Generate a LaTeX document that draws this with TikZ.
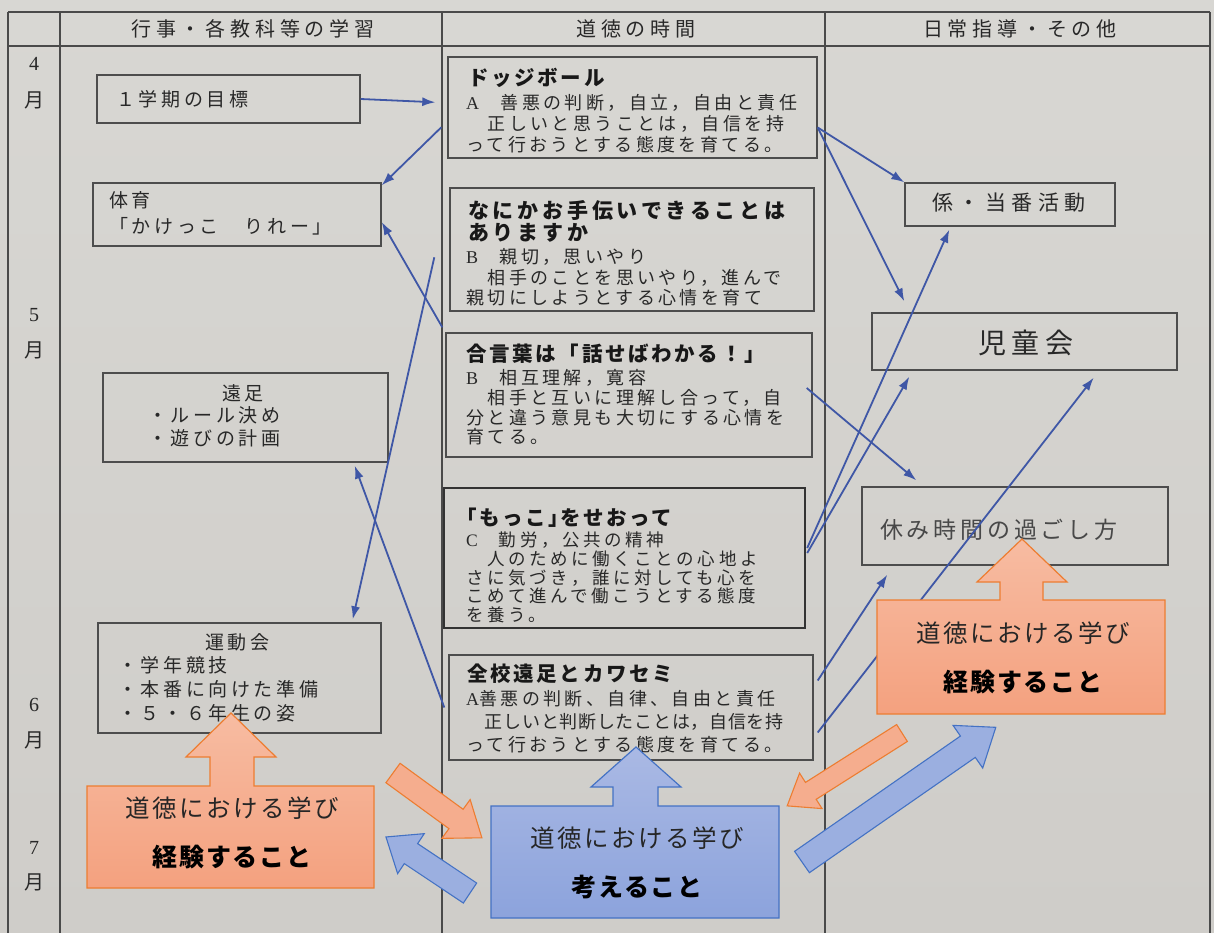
\documentclass[tikz,border=0pt]{standalone}
\usepackage{fontspec}
\setmainfont{Noto Sans CJK JP}
\newfontfamily\numfont{Liberation Serif}
\usetikzlibrary{arrows.meta,calc}
\definecolor{paper}{HTML}{D8D7D3}
\definecolor{paperb}{HTML}{CFCDC9}
\definecolor{linec}{HTML}{4A4A4A}
\definecolor{boxc}{HTML}{4D4D4D}
\definecolor{txtc}{HTML}{282828}
\definecolor{titc}{HTML}{181818}
\definecolor{connc}{HTML}{3F57A6}
\definecolor{orT}{HTML}{F7BCA2}
\definecolor{orB}{HTML}{F4A17F}
\definecolor{orM}{HTML}{F5AD8E}
\definecolor{orD}{HTML}{ED7D31}
\definecolor{blT}{HTML}{AAB9E4}
\definecolor{blB}{HTML}{8CA3DC}
\definecolor{blM}{HTML}{9BAFE0}
\definecolor{blD}{HTML}{4472C4}
\newcommand{\blkarrow}[7]{%
  \begin{scope}[shift={#2}, rotate=#3]
    \path[#1] (0,#5) -- ({#4-#7},#5) -- ({#4-#7},#6) -- (#4,0) -- ({#4-#7},-#6) -- ({#4-#7},-#5) -- (0,-#5) -- cycle;
  \end{scope}}
\tikzset{
  tline/.style={draw=linec, line width=1.2pt},
  bx/.style={draw=boxc, line width=1.4pt, inner sep=0pt},
  hdr/.style={font=\fontsize{20}{22}\selectfont\addfontfeature{LetterSpace=24}, text=txtc, inner sep=0pt},
  mon/.style={font=\fontsize{20}{20}\selectfont, text=txtc, inner sep=0pt},
  ltxt/.style={font=\fontsize{19}{#1}\selectfont\addfontfeature{LetterSpace=19}, text=txtc, inner sep=0pt, align=left, anchor=north west},
  ltxt/.default=24,
  ttl/.style={font=\fontsize{20.5}{#1}\selectfont\bfseries\addfontfeature{LetterSpace=13}, text=titc, inner sep=0pt, align=left, anchor=north west},
  ttl/.default=22,
  body/.style={font=\fontsize{18}{#1}\selectfont\addfontfeature{LetterSpace=19}, text=txtc, inner sep=0pt, align=left, anchor=north west},
  body/.default=21,
  conn/.style={draw=connc, line width=1.8pt, -{Latex[length=13pt,width=9pt]}},
  orcall/.style={draw=orD, line width=1.2pt, top color=orT, bottom color=orB},
  blcall/.style={draw=blD, line width=1.2pt, top color=blT, bottom color=blB},
  orarr/.style={draw=orD, line width=1.1pt, fill=orM},
  blarr/.style={draw=blD, line width=1.1pt, fill=blM},
  ctop/.style={font=\fontsize{24.5}{24}\selectfont\addfontfeature{LetterSpace=10}, text=black!85, inner sep=0pt},
  cbot/.style={font=\fontsize{25}{24}\selectfont\bfseries\addfontfeature{LetterSpace=7}, text=black, inner sep=0pt}
}
\begin{document}
\begin{tikzpicture}[x=1pt,y=-1pt]
\useasboundingbox (0,0) rectangle (1214,933);
\shade[top color=paper, bottom color=paperb] (0,0) rectangle (1214,933);

% table frame
\draw[tline] (8,12) -- (1210,12);
\draw[tline] (8,46) -- (1210,46);
\draw[tline] (8,12) -- (8,933);
\draw[tline] (60,12) -- (60,933);
\draw[tline] (442,12) -- (442,933);
\draw[tline] (825,12) -- (825,933);
\draw[tline] (1210,12) -- (1210,933);

% headers
\node[hdr] (h1) at (253,29) {行事・各教科等の学習};
\node[hdr] (h2) at (636,29) {道徳の時間};
\node[hdr] (h3) at (1020,29) {日常指導・その他};

% months
\node[mon] (m4) at (34,64) {\numfont 4};
\node[mon] (m4y) at (34,100) {月};
\node[mon] (m5) at (34,315) {\numfont 5};
\node[mon] (m5y) at (34,350) {月};
\node[mon] (m6) at (34,705) {\numfont 6};
\node[mon] (m6y) at (34,740) {月};
\node[mon] (m7) at (34,848) {\numfont 7};
\node[mon] (m7y) at (34,882) {月};

% left column
\node[bx, minimum width=263pt, minimum height=48pt] (goal) at (228.5,99) {};
\node[ltxt] (goalt) at (116,90) {１学期の目標};
\node[bx, minimum width=288pt, minimum height=63pt] (taiiku) at (237,214.5) {};
\node[ltxt=26] (taiikut) at (109,191) {体育\\「かけっこ　りれー」};
\node[bx, minimum width=285pt, minimum height=89pt] (ensoku) at (245.5,417.5) {};
\node[ltxt=22.5] (ensokut) at (148,384) {\hspace*{74pt}遠足\\・ルール決め\\・遊びの計画};
\node[bx, minimum width=283pt, minimum height=110pt] (undoukai) at (239.5,678) {};
\node[ltxt=23.7] (undoukait) at (118,633) {\hspace*{87pt}運動会\\・学年競技\\・本番に向けた準備\\・５・６年生の姿};

% middle column
\node[bx, minimum width=369pt, minimum height=101pt] (dodge) at (632.5,107.5) {};
\node[ttl] (dodget) at (468,68) {ドッジボール};
\node[body] (dodgeb) at (466,94.5) {{\numfont A}　善悪の判断，自立，自由と責任\\　正しいと思うことは，自信を持\\って行おうとする態度を育てる。};

\node[bx, minimum width=364pt, minimum height=123pt] (nanika) at (632,249.5) {};
\node[ttl=22, font=\fontsize{21}{22}\selectfont\bfseries\addfontfeature{LetterSpace=18}] (nanikat) at (468,200.5) {なにかお手伝いできることは\\ありますか};
\node[body=20.5] (nanikab) at (466,248.5) {{\numfont B}　親切，思いやり\\　相手のことを思いやり，進んで\\親切にしようとする心情を育て};

\node[bx, minimum width=366pt, minimum height=124pt] (aikotoba) at (629,395) {};
\node[ttl] (aikotobat) at (466,344) {合言葉は「話せばわかる！」};
\node[body=19.7] (aikotobab) at (466,369.5) {{\numfont B}　相互理解，寛容\\　相手と互いに理解し合って，自\\分と違う意見も大切にする心情を\\育てる。};

\node[bx, line width=2.4pt, draw=black!80, minimum width=361pt, minimum height=140pt] (mokko) at (624.5,558) {};
\node[ttl] (mokkot) at (456,507.5) {「もっこ」\hspace{-9pt}をせおって};
\node[body=18.8, font=\fontsize{17.5}{18.8}\selectfont\addfontfeature{LetterSpace=20.5}] (mokkob) at (466,531.5) {{\numfont C}　勤労，公共の精神\\　人のために働くことの心地よ\\さに気づき，誰に対しても心を\\こめて進んで働こうとする態度\\を養う。};

\node[bx, minimum width=364pt, minimum height=105pt] (zenkou) at (631,707.5) {};
\node[ttl] (zenkout) at (467,663.5) {全校遠足とカワセミ};
\node[body=23] (zenkoub) at (466,690.5) {{\numfont A}善悪の判断、自律、自由と責任\\{\addfontfeature{LetterSpace=4}　正しいと判断したことは，自信を持}\\って行おうとする態度を育てる。};

% right column
\node[bx, minimum width=210pt, minimum height=43pt] (kakari) at (1010,204.5) {};
\node[inner sep=0pt, text=txtc, font=\fontsize{21}{22}\selectfont\addfontfeature{LetterSpace=26}] (kakarit) at (1009,203) {係・当番活動};
\node[bx, minimum width=305pt, minimum height=57pt] (jidoukai) at (1024.5,341.5) {};
\node[inner sep=0pt, text=txtc, font=\fontsize{28}{29}\selectfont\addfontfeature{LetterSpace=18}] (jidoukait) at (1026,343) {児童会};
\node[bx, minimum width=306pt, minimum height=78pt] (yasumi) at (1015,526) {};
\node[inner sep=0pt, anchor=west, text=txtc!85, font=\fontsize{23}{24}\selectfont\addfontfeature{LetterSpace=16.5}] (yasumit) at (880,530) {休み時間の過ごし方};

% connectors
\draw[conn] (goal.east) -- ([xshift=-12pt,yshift=-46pt]dodge.north west);
\draw[conn] ([xshift=-6pt,yshift=-71pt]dodge.north west) -- ([yshift=-3pt]taiiku.north east);
\draw[conn] ([xshift=-3pt,yshift=5pt]aikotoba.north west) -- ([yshift=-7.5pt]taiiku.east);
\draw[conn] ([xshift=-15pt,yshift=-70pt]nanika.north west) -- ([xshift=-29pt,yshift=3pt]undoukai.north east);
\draw[conn] ([xshift=-4pt]zenkou.west) -- ([xshift=-34pt,yshift=-3pt]ensoku.south east);
\draw[conn] ([yshift=-20pt]dodge.east) -- (kakari.north west);
\draw[conn] ([yshift=-20pt]dodge.east) -- ([xshift=33pt,yshift=11pt]jidoukai.north west);
\draw[conn] ([xshift=-6pt,yshift=7pt]aikotoba.east) -- ([xshift=55pt,yshift=6pt]yasumi.north west);
\draw[conn] ([xshift=1pt,yshift=10pt]mokko.east) -- ([xshift=45pt,yshift=-3pt]kakari.south west);
\draw[conn] ([xshift=1pt,yshift=5pt]mokko.east) -- ([xshift=38pt,yshift=-6pt]jidoukai.south west);
\draw[conn] ([xshift=4pt,yshift=27pt]zenkou.east) -- ([xshift=26pt,yshift=-9pt]yasumi.south west);
\draw[conn] ([xshift=4pt,yshift=-25pt]zenkou.east) -- ([xshift=-84pt,yshift=-7pt]jidoukai.south east);

% callouts
\path[orcall] (87,786) -- (210,786) -- (210,757) -- (186,757) -- (231,713) -- (276,757) -- (254,757) -- (254,786) -- (374,786) -- (374,888) -- (87,888) -- cycle;
\node[ctop] (cl1) at (232,808) {道徳における学び};
\node[cbot] (cl2) at (232,857) {経験すること};

\path[blcall] (491,806) -- (613,806) -- (613,787) -- (591,787) -- (636,747) -- (681,787) -- (658,787) -- (658,806) -- (779,806) -- (779,918) -- (491,918) -- cycle;
\node[ctop] (cb1) at (637,838) {道徳における学び};
\node[cbot] (cb2) at (637,887) {考えること};

\path[orcall] (877,600) -- (1000,600) -- (1000,582) -- (977,582) -- (1022,539) -- (1067,582) -- (1043,582) -- (1043,600) -- (1165,600) -- (1165,714) -- (877,714) -- cycle;
\node[ctop] (cr1) at (1023,633) {道徳における学び};
\node[cbot] (cr2) at (1023,682) {経験すること};

% block arrows
\blkarrow{orarr}{(393,773)}{-36.1}{110}{12}{24}{32}
\blkarrow{blarr}{(470,893)}{146.3}{101}{12}{24}{30}
\blkarrow{orarr}{(902,733)}{-147.6}{136}{10}{21}{28}
\blkarrow{blarr}{(802,862)}{34.8}{236}{13}{26}{34}
\end{tikzpicture}
\end{document}
